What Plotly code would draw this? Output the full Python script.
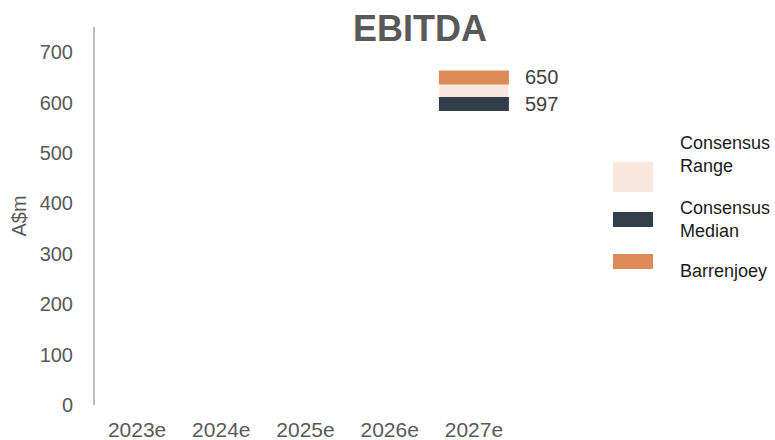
import plotly.graph_objects as go

# Forecast years and EBITDA estimates (A$m)
years = ["2023e", "2024e", "2025e", "2026e", "2027e"]
range_year = ["2027e"]
consensus_low = [597]
consensus_high = [650]
consensus_median = [597]
barrenjoey = [650]

ORANGE = "#DE8B5A"
PEACH = "#F9E6DC"
DARK = "#323F4B"
GREY = "#595959"
FONT = "Arial, Liberation Sans, sans-serif"

W, H = 775, 440
ML, MR, MT, MB = 95, 259, 27, 35
PW = W - ML - MR
PH = H - MT - MB


def px_x(px):
    return (px - ML) / PW


def px_y(py):
    return (H - MB - py) / PH


fig = go.Figure()

# Consensus range band
fig.add_trace(go.Bar(
    x=range_year,
    y=[h - l for l, h in zip(consensus_low, consensus_high)],
    base=consensus_low,
    width=0.82,
    marker=dict(color=PEACH, line=dict(width=0)),
    showlegend=False,
    hoverinfo="skip",
))

# Consensus median and Barrenjoey as thick horizontal dashes
for vals, color in ((consensus_median, DARK), (barrenjoey, ORANGE)):
    fig.add_trace(go.Scatter(
        x=range_year, y=vals, mode="markers",
        marker=dict(symbol="line-ew", size=50,
                    line=dict(color=color, width=14)),
        showlegend=False, cliponaxis=False,
    ))
    for xv, v in zip(range_year, vals):
        fig.add_annotation(
            x=xv, y=v, text=str(v), showarrow=False,
            xanchor="left", xshift=49,
            font=dict(family=FONT, size=20, color="#404040"),
        )

# Legend drawn as swatches with labels
legend_items = [
    (PEACH, 162, 192, "Consensus<br>Range", 154),
    (DARK, 212, 227, "Consensus<br>Median", 219),
    (ORANGE, 254, 269, "Barrenjoey", 271),
]
for color, y0, y1, label, ty in legend_items:
    fig.add_shape(
        type="rect", xref="paper", yref="paper",
        x0=px_x(613), x1=px_x(653), y0=px_y(y1), y1=px_y(y0),
        fillcolor=color, line=dict(width=0), layer="above",
    )
    fig.add_annotation(
        xref="paper", yref="paper", x=px_x(678), y=px_y(ty),
        text=label, showarrow=False, xanchor="left", yanchor="middle",
        align="left", font=dict(family=FONT, size=18, color="#1A1A1A"),
    )

fig.update_layout(
    width=W, height=H,
    margin=dict(l=ML, r=MR, t=MT, b=MB, autoexpand=False),
    paper_bgcolor="white", plot_bgcolor="white",
    title=dict(text="<b>EBITDA</b>", x=420 / W,
               xanchor="center", y=1 - 28 / H, yanchor="middle",
               font=dict(family=FONT, size=36, color=GREY)),
    showlegend=False,
    bargap=0.18,
)
fig.update_xaxes(
    type="category", categoryorder="array", categoryarray=years,
    range=[-0.5, 4.5], showgrid=False, showline=False, zeroline=False,
    automargin=False,
    ticks="outside", ticklen=6, tickcolor="rgba(0,0,0,0)",
    tickfont=dict(family=FONT, size=21, color=GREY),
)
fig.update_yaxes(
    range=[0, 750], tickvals=list(range(0, 701, 100)),
    showgrid=False, zeroline=False, automargin=False,
    showline=True, linecolor="#BFBFBF", linewidth=2,
    ticks="outside", ticklen=16, tickcolor="rgba(0,0,0,0)",
    tickfont=dict(family=FONT, size=20, color=GREY),
    title=dict(text="A$m", font=dict(family=FONT, size=20, color=GREY),
               standoff=8),
)

fig.write_html("out.html")
